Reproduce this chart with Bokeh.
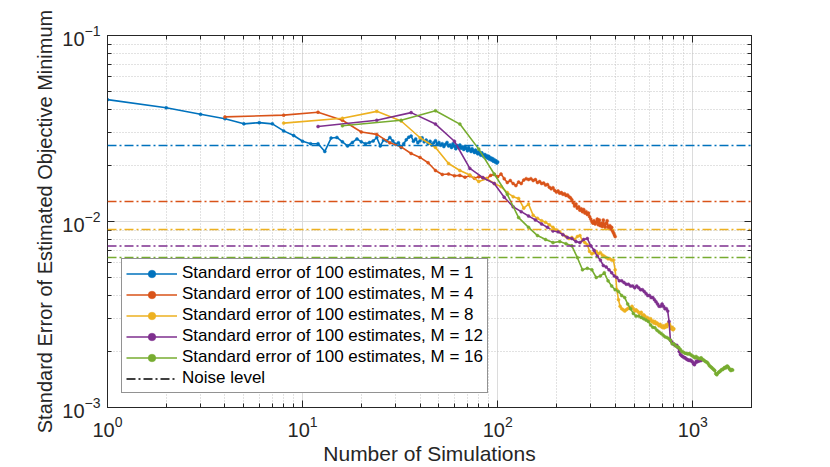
from bokeh.plotting import figure
from bokeh.models import (Span, FixedTicker, LinearAxis, Legend, LegendItem,
                          ColumnDataSource, Range1d)
from bokeh.embed import file_html
from bokeh.resources import INLINE

# ---------------- data ----------------
M_values = [1, 4, 8, 12, 16]
colors = ["#0072BD", "#D95319", "#EDB120", "#7E2F8E", "#77AC30"]

se_m1 = [0.0452, 0.0409, 0.0377, 0.0357, 0.0335, 0.0340, 0.0335, 0.0307, 0.0290, 0.0270,
         0.0262, 0.0262, 0.0238, 0.0281, 0.0283, 0.0268, 0.0255, 0.0266, 0.0278, 0.0268,
         0.0262, 0.0266, 0.0271, 0.0283, 0.0255, 0.0274, 0.0271, 0.0283, 0.0271, 0.0260,
         0.0265, 0.0250, 0.0262, 0.0275, 0.0284, 0.0288, 0.0270, 0.0278, 0.0265, 0.0272,
         0.0282, 0.0268, 0.0274, 0.0262, 0.0270, 0.0258, 0.0265, 0.0272, 0.0260, 0.0266,
         0.0257, 0.0262, 0.0253, 0.0260, 0.0266, 0.0255, 0.0258, 0.0250, 0.0262, 0.0254,
         0.0246, 0.0256, 0.0250, 0.0258, 0.0248, 0.0252, 0.0244, 0.0253, 0.0247, 0.0240,
         0.0250, 0.0243, 0.0238, 0.0246, 0.0240, 0.0235, 0.0242, 0.0236, 0.0231, 0.0238,
         0.0232, 0.0227, 0.0234, 0.0228, 0.0223, 0.0229, 0.0222, 0.0226, 0.0219, 0.0224,
         0.0216, 0.0220, 0.0214, 0.0218, 0.0211, 0.0215, 0.0209, 0.0212, 0.0206, 0.0209]

se_m4 = [0.0365, 0.0373, 0.0387, 0.0350, 0.0303, 0.0294, 0.0265, 0.0252, 0.0232, 0.0221,
         0.0207, 0.0188, 0.0179, 0.0180, 0.0176, 0.0177, 0.0173, 0.0176, 0.0171, 0.0174,
         0.0172, 0.0170, 0.0177, 0.0179, 0.0174, 0.0180, 0.0170, 0.0162, 0.0166, 0.0160,
         0.0156, 0.0163, 0.0160, 0.0167, 0.0170, 0.0168, 0.0170, 0.0166, 0.0168, 0.0162,
         0.0164, 0.0160, 0.0161, 0.0157, 0.0158, 0.0153, 0.0150, 0.0152, 0.0147, 0.0144,
         0.0146, 0.0142, 0.0143, 0.0140, 0.0141, 0.0138, 0.0139, 0.0136, 0.0134, 0.0131,
         0.0126, 0.0121, 0.0124, 0.0118, 0.0120, 0.0115, 0.0117, 0.0113, 0.0116, 0.0111,
         0.0113, 0.0109, 0.0111, 0.0106, 0.0103, 0.0100, 0.0098, 0.0101, 0.0097, 0.0099,
         0.0103, 0.0096, 0.0102, 0.0095, 0.0098, 0.0094, 0.0102, 0.0096, 0.0093, 0.0098,
         0.0101, 0.0094, 0.0092, 0.0095, 0.0091, 0.0093, 0.0089, 0.0087, 0.0085, 0.0083]

se_m8 = [0.0338, 0.0359, 0.0391, 0.0347, 0.0282, 0.0250, 0.0205, 0.0188, 0.0178, 0.0164,
         0.0170, 0.0160, 0.0154, 0.0143, 0.0136, 0.0133, 0.0118, 0.0124, 0.0108, 0.0104,
         0.0101, 0.0099, 0.0096, 0.0093, 0.0090, 0.0088, 0.0085, 0.0083, 0.0081, 0.0082,
         0.0080, 0.0083, 0.0084, 0.0079, 0.0077, 0.0075, 0.0069, 0.0067, 0.0068, 0.0069,
         0.0067, 0.0068, 0.0066, 0.0065, 0.0064, 0.0063, 0.0063, 0.0062, 0.0062, 0.0055,
         0.0043, 0.0038, 0.0035, 0.0034, 0.00335, 0.0033, 0.00335, 0.0034, 0.00345, 0.0034,
         0.0035, 0.0034, 0.0033, 0.00335, 0.0033, 0.00325, 0.0032, 0.00325, 0.0031, 0.00315,
         0.0031, 0.0030, 0.00305, 0.0030, 0.00295, 0.0030, 0.0029, 0.00292, 0.00285, 0.0029,
         0.00282, 0.00285, 0.0028, 0.00275, 0.0028, 0.00273, 0.0027, 0.00275, 0.00268, 0.0027,
         0.00278, 0.00272, 0.0028, 0.00285, 0.0028, 0.00272, 0.00265, 0.0027, 0.00262, 0.00265]

se_m12 = [0.0324, 0.0350, 0.0385, 0.0334, 0.0270, 0.0193, 0.0172, 0.0160, 0.0135, 0.0120,
          0.0113, 0.0107, 0.0102, 0.0097, 0.0093, 0.0089, 0.0088, 0.0085, 0.0082, 0.0081,
          0.0078, 0.0077, 0.0080, 0.0081, 0.0074, 0.0070, 0.0065, 0.0062, 0.0058, 0.0057,
          0.0055, 0.0053, 0.0051, 0.0050, 0.0048, 0.0048, 0.0047, 0.0046, 0.0046, 0.0045,
          0.0045, 0.0044, 0.0045, 0.0044, 0.0043, 0.0043, 0.0042, 0.0041, 0.0040, 0.0040,
          0.0039, 0.0039, 0.0038, 0.0037, 0.0036, 0.0035, 0.0035, 0.0036, 0.0035, 0.0034,
          0.0034, 0.0033, 0.0029, 0.0023, 0.00225, 0.0022, 0.00218, 0.00215, 0.00216, 0.0021,
          0.0020, 0.00193, 0.0019, 0.00188, 0.00186, 0.00185, 0.00183, 0.00181, 0.0018, 0.00179,
          0.0018, 0.00178, 0.00176, 0.00172, 0.0017, 0.00174, 0.00178, 0.00176, 0.00179, 0.00178,
          0.0018, 0.00179]

se_m16 = [0.0327, 0.0350, 0.0394, 0.0334, 0.0245, 0.0180, 0.0140, 0.0105, 0.0093, 0.0084,
          0.0080, 0.0077, 0.0078, 0.0076, 0.0074, 0.0064, 0.0055, 0.0056, 0.0055, 0.0050,
          0.0051, 0.0053, 0.0048, 0.0045, 0.0043, 0.0042, 0.0040, 0.0039, 0.0036, 0.0034,
          0.0032, 0.0031, 0.0031, 0.00305, 0.0030, 0.00295, 0.0029, 0.00278, 0.0027, 0.00268,
          0.0026, 0.00255, 0.0025, 0.00245, 0.0024, 0.00238, 0.00235, 0.0023, 0.0022, 0.0022,
          0.00215, 0.00212, 0.0021, 0.00205, 0.0020, 0.00198, 0.00196, 0.00195, 0.00194, 0.00195,
          0.00192, 0.0019, 0.00188, 0.00185, 0.00188, 0.00185, 0.00184, 0.00183, 0.00185, 0.00182,
          0.0018, 0.00178, 0.00176, 0.00175, 0.00172, 0.00168, 0.00166, 0.00164, 0.00162, 0.0016,
          0.00158, 0.00152, 0.0015, 0.00153, 0.00155, 0.00156, 0.00158, 0.0016, 0.0016, 0.00162,
          0.00164, 0.00163, 0.00166, 0.00167, 0.00165, 0.00162, 0.0016, 0.00158, 0.0016, 0.00159]

series = [se_m1, se_m4, se_m8, se_m12, se_m16]
noise_levels = [0.0256, 0.0128, 0.00905, 0.00739, 0.0064]

x_major_ticks = [1, 10, 100, 1000]
x_minor_ticks = [2, 3, 4, 5, 6, 7, 8, 9, 20, 30, 40, 50, 60, 70, 80, 90,
                 200, 300, 400, 500, 600, 700, 800, 900, 2000]
y_major_ticks = [0.001, 0.01, 0.1]
y_minor_ticks = [0.002, 0.003, 0.004, 0.005, 0.006, 0.007, 0.008, 0.009,
                 0.02, 0.03, 0.04, 0.05, 0.06, 0.07, 0.08, 0.09]

FONT = "Liberation Sans"
TXT = "#262626"

p = figure(width=830, height=467, x_axis_type="log", y_axis_type="log",
           x_range=Range1d(1, 2000), y_range=Range1d(0.001, 0.1),
           output_backend="svg", toolbar_location=None,
           min_border_left=107, min_border_right=79,
           min_border_top=35, min_border_bottom=60)
p.background_fill_color = "white"
p.border_fill_color = "white"
p.outline_line_color = TXT
p.outline_line_width = 1

def style_axis(ax, ticks, minor):
    ax.ticker = FixedTicker(ticks=ticks, minor_ticks=minor)
    ax.major_tick_in = 7
    ax.major_tick_out = 0
    ax.minor_tick_in = 4
    ax.minor_tick_out = 0
    ax.major_tick_line_color = TXT
    ax.minor_tick_line_color = TXT
    ax.axis_line_color = TXT
    ax.major_label_text_font = FONT
    ax.major_label_text_color = TXT
    ax.major_label_text_font_size = "20px"
    ax.axis_label_text_font = FONT
    ax.axis_label_text_color = TXT
    ax.axis_label_text_font_style = "normal"
    ax.axis_label_text_font_size = "21px"

xa = p.xaxis[0]
ya = p.yaxis[0]
style_axis(xa, x_major_ticks, x_minor_ticks)
style_axis(ya, y_major_ticks, y_minor_ticks)
xa.axis_label = "Number of Simulations"
ya.axis_label = "Standard Error of Estimated Objective Minimum"
ya.axis_label_text_font_size = "20px"
xa.major_label_standoff = 8
xa.axis_label_standoff = 2
ya.major_label_standoff = 7
ya.axis_label_standoff = 3

# box axes (ticks only) on top and right
top_ax = LinearAxis()
style_axis(top_ax, x_major_ticks, x_minor_ticks)
top_ax.major_label_overrides = {t: "" for t in x_major_ticks}
top_ax.major_label_standoff = 0
p.add_layout(top_ax, "above")
right_ax = LinearAxis()
style_axis(right_ax, y_major_ticks, y_minor_ticks)
right_ax.major_label_overrides = {t: "" for t in y_major_ticks}
right_ax.major_label_standoff = 0
p.add_layout(right_ax, "right")

for g in (p.xgrid[0], p.ygrid[0]):
    g.grid_line_color = "#DCDCDC"
    g.grid_line_width = 1
    g.minor_grid_line_color = "#C4C4C4"
    g.minor_grid_line_dash = "1 2"
    g.minor_grid_line_width = 1

items = []
x_series = []
for M, se, col in zip(M_values, series, colors):
    xs = [M * (k + 1) for k in range(len(se))]
    x_series.append(xs)
    src = ColumnDataSource(data=dict(x=xs, y=se))
    r1 = p.line("x", "y", source=src, line_color=col, line_width=1.6)
    r2 = p.scatter("x", "y", source=src, marker="circle", size=3,
                   fill_color=col, line_color=col, line_width=0.5)
    items.append(LegendItem(label=f"Standard error of 100 estimates, M = {M}",
                            renderers=[r1, r2]))

for lvl, col in zip(noise_levels, colors):
    p.add_layout(Span(location=lvl, dimension="width", line_color=col,
                      line_width=1.6, line_dash="9 3 2 3"))

# legend proxy for the noise-level lines: hidden renderer (shown only in the legend)
noise_src = ColumnDataSource(data=dict(x=x_series[0],
                                       y=[noise_levels[0]] * len(x_series[0])))
rn = p.line("x", "y", source=noise_src, line_color="black", line_width=1.6,
            line_dash="9 3 2 3", visible=False)
items.append(LegendItem(label="Noise level", renderers=[rn]))

legend = Legend(items=items, location="bottom_left", click_policy="none")
legend.label_text_font = FONT
legend.label_text_font_size = "17px"
legend.label_text_color = "black"
legend.label_height = 19
legend.glyph_height = 19
legend.glyph_width = 51
legend.label_standoff = 5
legend.spacing = 1
legend.padding = 4
legend.margin = 14
legend.border_line_color = TXT
legend.border_line_width = 1
legend.background_fill_color = "white"
legend.background_fill_alpha = 1
legend.inactive_fill_alpha = 0
p.add_layout(legend, "center")

open("out.html", "w").write(file_html(p, INLINE))
